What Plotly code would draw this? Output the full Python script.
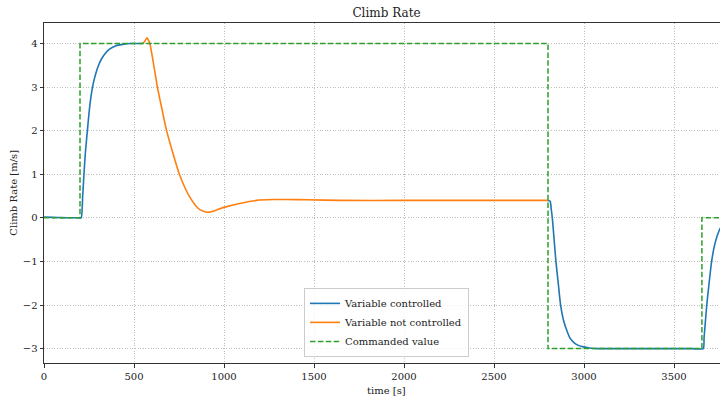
import plotly.graph_objects as go

# ---- data ----
ctrl1_t = [0, 50, 100, 150, 200, 207, 215, 222, 230, 241, 250, 260, 272, 287, 303, 320, 340, 364, 400, 438, 480, 520, 550]
ctrl1_y = [0.02, 0.01, 0.005, 0.002, 0.0, 0.0, 0.5, 1.0, 1.5, 2.0, 2.4, 2.75, 3.05, 3.3, 3.5, 3.65, 3.77, 3.87, 3.95, 3.98, 4.0, 4.0, 4.0]

ctrl2_t = [2800, 2812, 2818, 2824, 2834, 2844, 2857, 2870, 2886, 2904, 2920, 2941, 2965, 2996, 3030, 3080, 3200, 3400, 3600, 3662,
           3667, 3672, 3682, 3695, 3709, 3728, 3752, 3770]
ctrl2_y = [0.4, 0.38, 0.2, 0.0, -0.5, -1.0, -1.5, -2.0, -2.35, -2.58, -2.74, -2.85, -2.92, -2.96, -2.985, -3.0, -3.0, -3.0, -3.0, -3.0,
           -2.75, -2.5, -2.0, -1.5, -1.0, -0.58, -0.28, -0.15]

free_t = [550, 560, 572, 580, 588, 610, 630, 655, 681, 715, 752, 780, 811, 856, 880, 903, 930, 960, 1000, 1087, 1180, 1273, 1350, 1460, 1644, 2000, 2400, 2800]
free_y = [4.0, 4.05, 4.13, 4.08, 4.0, 3.5, 3.0, 2.5, 2.0, 1.5, 1.0, 0.72, 0.47, 0.22, 0.16, 0.13, 0.14, 0.18, 0.24, 0.33, 0.40, 0.42, 0.42, 0.415, 0.40, 0.40, 0.40, 0.40]

cmd_t = [0, 200, 2800, 3655, 3800]
cmd_y = [0, 4, -3, 0, 0]

x_ticks = [0, 500, 1000, 1500, 2000, 2500, 3000, 3500]
y_ticks = [-3, -2, -1, 0, 1, 2, 3, 4]

FONT = "DejaVu Serif"
TXT = "#222222"

fig = go.Figure()
fig.add_trace(go.Scatter(x=ctrl1_t + [None] + ctrl2_t, y=ctrl1_y + [None] + ctrl2_y,
                         mode="lines", name="Variable controlled",
                         line=dict(color="#1f77b4", width=1.6, shape="spline", smoothing=0.6), connectgaps=False))
fig.add_trace(go.Scatter(x=free_t, y=free_y, mode="lines", name="Variable not controlled",
                         line=dict(color="#ff7f0e", width=1.6, shape="spline", smoothing=0.6)))
fig.add_trace(go.Scatter(x=cmd_t, y=cmd_y, mode="lines", name="Commanded value",
                         line=dict(color="#2ca02c", width=1.5, dash="5.5px,2.4px", shape="hv")))

W, H = 720, 397
L, T, B = 44, 23, 34
pw = W - L
xc = (386.5 - L) / pw

fig.update_layout(
    width=W, height=H,
    margin=dict(l=L, r=0, t=T, b=B, pad=0),
    paper_bgcolor="white", plot_bgcolor="white",
    font=dict(family=FONT, size=10, color=TXT),
    title=dict(text="Climb Rate", x=386.5 / W, xanchor="center", y=1 - 12.7 / H, yanchor="middle",
               xref="container", yref="container", font=dict(family=FONT, size=12, color=TXT)),
    showlegend=True,
    legend=dict(x=xc, xanchor="center", y=0.018, yanchor="bottom",
                bgcolor="rgba(255,255,255,0.8)", bordercolor="#cccccc", borderwidth=1,
                font=dict(family=FONT, size=10, color=TXT), tracegroupgap=0),
    xaxis=dict(range=[0, pw / 0.18], tickvals=x_ticks, ticktext=[str(v) for v in x_ticks],
               showline=True, linecolor="#333333", linewidth=1, mirror=True,
               ticks="outside", ticklen=3.5, tickwidth=0.8, tickcolor="#333333",
               showgrid=True, gridcolor="#bdbdbd", gridwidth=0.8, griddash="1px,1.6px",
               zeroline=False, tickfont=dict(size=10, family=FONT, color=TXT)),
    yaxis=dict(range=[-3.33, 4.47], tickvals=y_ticks, ticktext=[("\u2212" + str(-v)) if v < 0 else str(v) for v in y_ticks],
               showline=True, linecolor="#333333", linewidth=1, mirror=False,
               ticks="outside", ticklen=3.5, tickwidth=0.8, tickcolor="#333333",
               showgrid=True, gridcolor="#bdbdbd", gridwidth=0.8, griddash="1px,1.6px",
               zeroline=False, tickfont=dict(size=10, family=FONT, color=TXT)),
    annotations=[
        dict(text="time [s]", xref="paper", yref="paper", x=xc, y=-(390 - (H - B)) / (H - T - B),
             xanchor="center", yanchor="middle", showarrow=False, font=dict(family=FONT, size=10, color=TXT)),
        dict(text="Climb Rate [m/s]", xref="paper", yref="paper", x=-(L - 12.7) / pw, y=0.5,
             xanchor="center", yanchor="middle", textangle=-90, showarrow=False,
             font=dict(family=FONT, size=10, color=TXT)),
    ],
)

fig.write_html("out.html", config={"displayModeBar": False},
               post_script="document.body.style.margin='0';document.body.style.overflow='hidden';")
